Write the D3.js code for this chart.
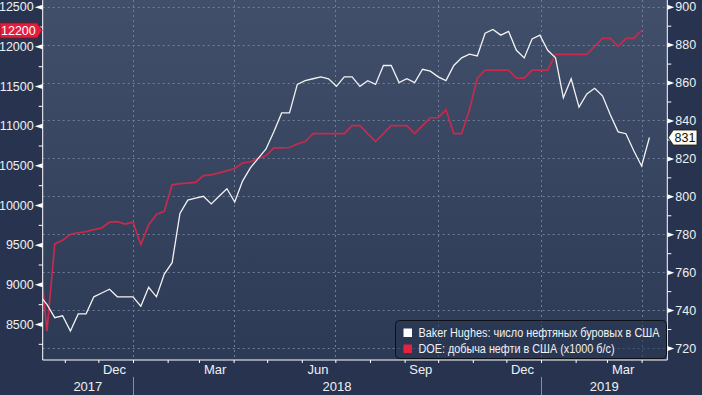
<!DOCTYPE html>
<html>
<head>
<meta charset="utf-8">
<script src="https://cdn.jsdelivr.net/npm/d3@7"></script>
<style>
  html, body { margin: 0; padding: 0; background: #28344f; }
  svg { display: block; font-family: "Liberation Sans", Arial, sans-serif; }
</style>
</head>
<body>
<svg width="702" height="395"></svg>
<script>
// weekly points, first week plotted at this date
const firstWeek = "2017-10-09";

// Baker Hughes oil rig count (right axis)
const rigs = [
  748, 743, 736, 737, 729, 738, 738, 747, 749, 751,
  747, 747, 747, 742, 752, 747, 759, 765, 791, 798,
  799, 800, 796, 800, 804, 797, 808, 815, 820, 825,
  834, 844, 844, 859, 861, 862, 863, 862, 858, 863,
  863, 858, 861, 859, 869, 869, 860, 862, 860, 867,
  866, 863, 861, 869, 873, 875, 874, 886, 888, 885,
  887, 877, 873, 883, 885, 877, 873, 852, 862, 847,
  854, 857, 853, 843, 834, 833, 824, 816, 831
];

// DOE crude output, thousand b/d (left axis)
const output = [
  9480, 8410, 9510, 9555, 9630, 9650, 9665, 9690, 9710, 9785,
  9790, 9760, 9785, 9500, 9750, 9880, 9920, 10255, 10270, 10275,
  10285, 10370, 10380, 10405, 10430, 10460, 10530, 10545, 10590, 10620,
  10720, 10720, 10725, 10770, 10800, 10900, 10900, 10900, 10900, 10900,
  11000, 11000, 10900, 10800, 10900, 11000, 11000, 11000, 10900, 11000,
  11100, 11100, 11200, 10900, 10900, 11200, 11600, 11700, 11700, 11700,
  11700, 11600, 11600, 11700, 11700, 11700, 11900, 11900, 11900, 11900,
  11900, 12000, 12100, 12100, 12000, 12100, 12100, 12200
];

const leftTicks = [8500, 9000, 9500, 10000, 10500, 11000, 11500, 12000, 12500];
const leftMinor = [8250, 8750, 9250, 9750, 10250, 10750, 11250, 11750, 12250];
const rightTicks = [720, 740, 760, 780, 800, 820, 840, 860, 880, 900];
const rightMinor = [730, 750, 770, 790, 810, 830, 850, 870, 890];
const monthLabelDates = ["2017-12-15", "2018-03-15", "2018-06-15", "2018-09-15", "2018-12-15", "2019-03-15"];
const gridDates = ["2018-01-01", "2018-04-01", "2018-07-01", "2018-10-01", "2019-01-01", "2019-04-01"];
const years = ["2017", "2018", "2019"];
const legendNames = ["Baker Hughes: число нефтяных буровых в США", "DOE: добыча нефти в США (x1000 б/с)"];

const parse = d3.utcParse("%Y-%m-%d");
const svg = d3.select("svg");

const plotL = 42.7, plotR = 667.3, plotT = 0, plotB = 360;
const fontSize = 12.5;

const x = d3.scaleUtc()
  .domain([parse("2018-01-01"), parse("2019-01-01")])
  .range([133, 541]);
const yL = d3.scaleLinear().domain([8500, 12500]).range([324, 6.7]);
const yR = d3.scaleLinear().domain([720, 900]).range([348, 6.7]);

const start = parse(firstWeek);
const rigData = rigs.map((v, i) => ({ date: d3.utcDay.offset(start, 7 * i), v }));
const outData = output.map((v, i) => ({ date: d3.utcDay.offset(start, 7 * i), v }));

// backgrounds
const defs = svg.append("defs");
const grad = defs.append("linearGradient").attr("id", "bg").attr("x1", 0).attr("y1", 0).attr("x2", 0).attr("y2", 1);
grad.append("stop").attr("offset", "0%").attr("stop-color", "#414f6a");
grad.append("stop").attr("offset", "100%").attr("stop-color", "#2d3a56");
defs.append("clipPath").attr("id", "clip")
  .append("rect").attr("x", plotL).attr("y", plotT).attr("width", plotR - plotL).attr("height", plotB - plotT);

svg.append("rect").attr("width", 702).attr("height", 395).attr("fill", "#28344f");
svg.append("rect").attr("x", plotL).attr("y", plotT).attr("width", plotR - plotL).attr("height", plotB - plotT)
  .attr("fill", "url(#bg)");

// grid
const grid = svg.append("g").attr("stroke", "#6b7f9c").attr("stroke-width", 1).attr("stroke-dasharray", "2,3");
grid.selectAll(".h").data(rightTicks).join("line")
  .attr("x1", plotL).attr("x2", plotR)
  .attr("y1", d => Math.round(yR(d)) + 0.5).attr("y2", d => Math.round(yR(d)) + 0.5);
grid.selectAll(".v").data(gridDates.map(parse)).join("line")
  .attr("x1", d => Math.round(x(d)) + 0.5).attr("x2", d => Math.round(x(d)) + 0.5)
  .attr("y1", plotT).attr("y2", plotB);

// lines
const plot = svg.append("g").attr("clip-path", "url(#clip)");
plot.append("path")
  .attr("d", d3.line().x(d => x(d.date)).y(d => yL(d.v))(outData))
  .attr("fill", "none").attr("stroke", "#c72a4c").attr("stroke-width", 1.7);
plot.append("path")
  .attr("d", d3.line().x(d => x(d.date)).y(d => yR(d.v))(rigData))
  .attr("fill", "none").attr("stroke", "#f2f2f2").attr("stroke-width", 1.3);

// axis frame
svg.append("path")
  .attr("d", `M${plotL},${plotT}V${plotB}H${plotR}V${plotT}`)
  .attr("fill", "none").attr("stroke", "#ffffff").attr("stroke-width", 1);

// left axis
const gl = svg.append("g").attr("transform", `translate(${plotL},0)`)
  .call(d3.axisLeft(yL).tickValues(leftTicks).tickSize(0).tickPadding(9).tickFormat(d3.format("d")));
gl.select(".domain").remove();
gl.selectAll(".tick text").attr("fill", "#eef0f4").attr("font-size", fontSize);
gl.selectAll(".tick").append("path").attr("d", "M0,-2.5L-8,0L0,2.5Z").attr("fill", "#ffffff");
const glm = svg.append("g").attr("transform", `translate(${plotL},0)`)
  .call(d3.axisLeft(yL).tickValues(leftMinor).tickSize(4).tickFormat(""));
glm.select(".domain").remove();
glm.selectAll("line").attr("stroke", "#ffffff");

// right axis
const gr = svg.append("g").attr("transform", `translate(${plotR},0)`)
  .call(d3.axisRight(yR).tickValues(rightTicks).tickSize(0).tickPadding(8).tickFormat(d3.format("d")));
gr.select(".domain").remove();
gr.selectAll(".tick text").attr("fill", "#eef0f4").attr("font-size", fontSize);
gr.selectAll(".tick").append("path").attr("d", "M0,-2.5L7,0L0,2.5Z").attr("fill", "#ffffff");
const grm = svg.append("g").attr("transform", `translate(${plotR},0)`)
  .call(d3.axisRight(yR).tickValues(rightMinor).tickSize(4).tickFormat(""));
grm.select(".domain").remove();
grm.selectAll("line").attr("stroke", "#ffffff");

// bottom axis: month ticks, month labels, years
const months = d3.utcMonth.range(x.invert(plotL), x.invert(plotR)).filter(d => x(d) > plotL + 1);
const gb = svg.append("g").attr("transform", `translate(0,${plotB})`)
  .call(d3.axisBottom(x).tickValues(months).tickSize(3).tickFormat(""));
gb.select(".domain").remove();
gb.selectAll("line").attr("stroke", "#ffffff");
const gbl = svg.append("g").attr("transform", `translate(0,${plotB})`)
  .call(d3.axisBottom(x).tickValues(monthLabelDates.map(parse)).tickSize(0).tickPadding(5)
    .tickFormat(d3.utcFormat("%b")));
gbl.select(".domain").remove();
gbl.selectAll("text").attr("fill", "#eef0f4").attr("font-size", 13);

const yearSpans = years.map(y => {
  const a = Math.max(plotL, x(parse(`${y}-01-01`)));
  const b = Math.min(plotR, x(parse(`${+y + 1}-01-01`)));
  return { y, a, b };
});
svg.append("g").selectAll("text").data(yearSpans).join("text")
  .attr("x", d => (d.a + d.b) / 2).attr("y", 391)
  .attr("text-anchor", "middle").attr("fill", "#eef0f4").attr("font-size", 13)
  .text(d => d.y);
svg.append("g").selectAll("line").data(yearSpans.slice(1)).join("line")
  .attr("x1", d => Math.round(d.a) + 0.5).attr("x2", d => Math.round(d.a) + 0.5)
  .attr("y1", 377).attr("y2", 395).attr("stroke", "#8090a8");

// last value flags
const lastOut = output[output.length - 1];
const cyL = yL(lastOut);
const fl = svg.append("g");
fl.append("path")
  .attr("d", `M0,${cyL - 7.5}H37L${plotL - 0.5},${cyL}L37,${cyL + 7.5}H0Z`)
  .attr("fill", "#e31d3e").attr("stroke", "#8e1026").attr("stroke-width", 0.8);
fl.append("text").attr("x", 1).attr("y", cyL + 4.5).attr("fill", "#ffffff").attr("font-size", fontSize)
  .text(lastOut);

const lastRig = rigs[rigs.length - 1];
const cyR = yR(lastRig);
const fr = svg.append("g");
fr.append("path")
  .attr("d", `M${plotR + 1},${cyR}L${plotR + 6},${cyR - 7.5}H697V${cyR + 7.5}H${plotR + 6}Z`)
  .attr("fill", "#fffdf0").attr("stroke", "#1a1a1a").attr("stroke-width", 0.8);
fr.append("text").attr("x", 674.5).attr("y", cyR + 4.5).attr("fill", "#111111").attr("font-size", fontSize)
  .text(lastRig);

// legend
const lg = svg.append("g").attr("transform", "translate(395.5,320.5)");
lg.append("rect").attr("width", 271).attr("height", 38).attr("rx", 4)
  .attr("fill", "rgba(40,52,80,0.55)").attr("stroke", "#0e1018").attr("stroke-width", 1);
const legendColors = ["#ffffff", "#e8213f"];
const legendWidths = [241, 196];
legendNames.forEach((name, i) => {
  lg.append("rect").attr("x", 8).attr("y", 8 + i * 16).attr("width", 8.5).attr("height", 8.5)
    .attr("fill", legendColors[i]);
  lg.append("text").attr("x", 23).attr("y", 16.5 + i * 16)
    .attr("fill", "#f2f2f2").attr("font-size", 12)
    .attr("textLength", legendWidths[i]).attr("lengthAdjust", "spacingAndGlyphs")
    .text(name);
});
</script>
</body>
</html>
